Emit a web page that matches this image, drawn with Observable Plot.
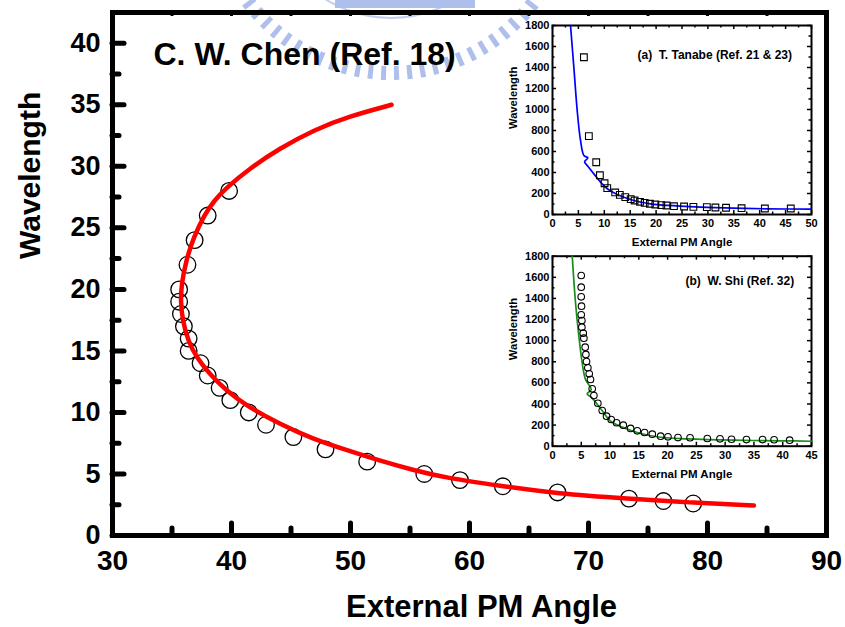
<!DOCTYPE html>
<html><head><meta charset="utf-8">
<script src="https://cdn.jsdelivr.net/npm/d3@7"></script>
<script src="https://cdn.jsdelivr.net/npm/@observablehq/plot@0.6"></script>
<style>
body{margin:0;background:#fff;}
#wrap{position:relative;width:845px;height:627px;overflow:hidden;font-family:Arial,"Liberation Sans",Helvetica,sans-serif;}
#wrap > *{position:absolute;}
</style></head><body><div id="wrap"></div>
<script>
// ---- main chart: C. W. Chen (Ref. 18)
const mainAngle = [39.8,38.0,36.9,36.3,35.6,35.6,35.75,36.0,36.4,36.4,37.4,38.0,39.0,39.9,41.45,42.9,45.2,47.9,51.4,56.2,59.2,62.8,67.4,73.4,76.3,78.8];
const mainWave  = [28,26,24,22,20,19,18,17,16,15,14,13,12,11,10,9,8,7,6,5,4.5,4,3.5,3,2.8,2.6];
const fitAngle = [53.45,49.87,46.95,43.95,41.58,39.49,38.54,37.75,36.8,36.17,35.8,35.72,35.89,36.36,37.06,38.18,39.58,41.26,44.05,46.85,49.65,52.44,55.23,58.03,62.5,67.4,73.4,78.5,83.9];
const fitWave  = [35.0,34.06,32.98,31.4,29.87,28.2,27.2,26.1,24.2,22.3,20.4,19.06,17.44,15.8,14.46,13.1,11.76,10.54,9.06,7.84,6.95,6.08,5.33,4.68,4.05,3.4,3.0,2.68,2.43];
const mainXTicks = [30,40,50,60,70,80,90];
const mainXMinor = [35,45,55,65,75,85];
const mainYTicks = [0,5,10,15,20,25,30,35,40];
const mainYMinor = [2.5,7.5,12.5,17.5,22.5,27.5,32.5,37.5];

// ---- inset (a): T. Tanabe
const tanAngle = [6.06,7.02,8.44,9.15,10.05,10.57,12.1,13.0,14.05,15.1,15.85,16.9,17.8,18.8,19.85,21.0,22.0,23.45,25.4,27.2,29.8,31.45,33.5,36.5,41.0,46.0];
const tanWave  = [1498,746,498,374,298,251,210,187,165,146,133,121,111,102,95,89,86,79,76,73,70,67,64,60,57,57];
const tanFitAngle = [3.48,4.12,4.77,5.41,6.06,6.83,6.19,6.83,7.99,9.28,10.57,12.5,15.7,18.9,22.2,28.6,35.05,41.5,49.9];
const tanFitWave  = [1800,1403,990,705,562,540,502,460,387,308,245,190,133,102,86,70,60,54,51];

// ---- inset (b): W. Shi
const shiAngle = [4.99,4.99,4.99,5.04,4.99,5.1,5.1,5.34,5.45,5.68,5.8,5.91,6.14,6.38,6.6,6.9,7.19,7.88,8.64,9.39,10.2,11.13,12.3,13.57,14.73,16.0,17.34,18.79,20.06,21.8,23.9,26.9,29.1,31.1,33.7,36.5,38.5,41.2];
const shiWave  = [1617,1507,1415,1327,1245,1191,1128,1071,1023,938,869,802,743,686,632,544,480,407,338,284,253,222,199,168,146,130,114,95,89,82,80,73,70,66,63,63,61,57];
const shiFitAngle = [3.43,4.0,4.58,5.16,5.74,6.73,6.03,6.73,8.35,10.09,12.4,15.3,18.8,23.4,31.5,40.2,45];
const shiFitWave  = [1800,1359,1042,790,632,537,496,464,357,237,174,120,85,70,57,51,47];

const insetYTicks = [0,200,400,600,800,1000,1200,1400,1600,1800];
const insetYMinor = [100,300,500,700,900,1100,1300,1500,1700];
const tanXTicks = [0,5,10,15,20,25,30,35,40,45,50];
const tanXMinor = [2.5,7.5,12.5,17.5,22.5,27.5,32.5,37.5,42.5,47.5];
const shiXTicks = [0,5,10,15,20,25,30,35,40,45];
const shiXMinor = [2.5,7.5,12.5,17.5,22.5,27.5,32.5,37.5,42.5];

const FONT = 'Arial, "Liberation Sans", Helvetica, sans-serif';
const zip = (xs, ys) => xs.map((x, i) => ({x, y: ys[i]}));
const plain = d => String(d);
const wrap = document.getElementById("wrap");

// faint watermark logo behind the chart (decoration only)
const wm = d3.create("svg").attr("width", 845).attr("height", 627).style("left", "0px").style("top", "0px");
wm.append("circle").attr("cx", 391).attr("cy", -106).attr("r", 179).attr("fill", "none")
  .attr("stroke", "#aebfec").attr("stroke-width", 14).attr("stroke-dasharray", "5 8");
wm.append("circle").attr("cx", 391).attr("cy", -106).attr("r", 124).attr("fill", "none")
  .attr("stroke", "#c3cff2").attr("stroke-width", 2);
wm.append("rect").attr("x", 335).attr("y", 0).attr("width", 140).attr("height", 8).attr("fill", "#aebfec");
wrap.append(wm.node());

// main plot
const W = 845, H = 627, mL = 112, mR = 19, mT = 12, mB = 92;
const pW = W - mL - mR, pH = H - mT - mB;
const main = Plot.plot({
  width: W, height: H, marginLeft: mL, marginRight: mR, marginTop: mT, marginBottom: mB,
  style: {background: "transparent", fontFamily: FONT, overflow: "visible", color: "black"},
  x: {domain: [30, 90]},
  y: {domain: [0, 42.5]},
  marks: [
    Plot.axisX(mainXTicks, {tickSize: 0, tickPadding: 15, fontSize: 28, fontWeight: "bold", label: null, tickFormat: plain}),
    Plot.axisY(mainYTicks, {tickSize: 0, tickPadding: 12, fontSize: 27, fontWeight: "bold", label: null, tickFormat: plain}),
    Plot.tickX(mainXTicks, {x: d => d, insetTop: pH - 12, strokeWidth: 5, strokeLinecap: "round"}),
    Plot.tickX(mainXMinor, {x: d => d, insetTop: pH - 7, strokeWidth: 5, strokeLinecap: "round"}),
    Plot.tickX(mainXTicks.concat(mainXMinor), {x: d => d, insetBottom: pH - 4, strokeWidth: 3}),
    Plot.tickY(mainYTicks, {y: d => d, insetRight: pW - 12, strokeWidth: 5, strokeLinecap: "round"}),
    Plot.tickY(mainYMinor, {y: d => d, insetRight: pW - 7, strokeWidth: 5, strokeLinecap: "round"}),
    Plot.frame({stroke: "black", strokeWidth: 5}),
    Plot.dot(zip(mainAngle, mainWave), {x: "x", y: "y", r: 8.3, stroke: "black", strokeWidth: 1.3, fill: "none"}),
    Plot.line(zip(fitAngle, fitWave), {x: "x", y: "y", stroke: "#ff0000", strokeWidth: 4.5, curve: "basis"}),
    Plot.text(["C. W. Chen (Ref. 18)"], {text: d => d, frameAnchor: "top-left", dx: 41, dy: 42, textAnchor: "start", lineAnchor: "middle", fontSize: 32, fontWeight: "bold"}),
    Plot.text(["External PM Angle"], {text: d => d, frameAnchor: "bottom", dx: 12, dy: 72, lineAnchor: "middle", fontSize: 31, fontWeight: "bold"}),
    Plot.text(["Wavelength"], {text: d => d, frameAnchor: "left", dx: -82, dy: -15, rotate: -90, lineAnchor: "middle", fontSize: 30, fontWeight: "bold"})
  ]
});
main.style.left = "0px"; main.style.top = "0px";
wrap.append(main);

// insets
function inset({top, height, marginTop, marginBottom, xDomain, xTicks, xMinor, pts, fit, color, symbol, r, title, titleDx, titleDy}) {
  const w = 340, mLi = 62, mRi = 19;
  const ph = height - marginTop - marginBottom, pw = w - mLi - mRi;
  const p = Plot.plot({
    width: w, height, marginLeft: mLi, marginRight: mRi, marginTop, marginBottom,
    style: {background: "transparent", fontFamily: FONT, overflow: "visible", color: "black"},
    x: {domain: xDomain},
    y: {domain: [0, 1800]},
    marks: [
      Plot.axisX(xTicks, {tickSize: 0, tickPadding: 5, fontSize: 11, fontWeight: "bold", label: null, tickFormat: plain}),
      Plot.axisY(insetYTicks, {tickSize: 0, tickPadding: 3, fontSize: 11, fontWeight: "bold", label: null, tickFormat: plain}),
      Plot.tickX(xTicks, {x: d => d, insetTop: ph - 4, strokeWidth: 1.5}),
      Plot.tickX(xMinor, {x: d => d, insetTop: ph - 2.5, strokeWidth: 1.5}),
      Plot.tickX(xTicks, {x: d => d, insetBottom: ph - 4, strokeWidth: 1.5}),
      Plot.tickX(xMinor, {x: d => d, insetBottom: ph - 2.5, strokeWidth: 1.5}),
      Plot.tickY(insetYTicks, {y: d => d, insetRight: pw - 4, strokeWidth: 1.5}),
      Plot.tickY(insetYMinor, {y: d => d, insetRight: pw - 2.5, strokeWidth: 1.5}),
      Plot.tickY(insetYTicks, {y: d => d, insetLeft: pw - 4, strokeWidth: 1.5}),
      Plot.tickY(insetYMinor, {y: d => d, insetLeft: pw - 2.5, strokeWidth: 1.5}),
      Plot.frame({stroke: "black", strokeWidth: 2}),
      Plot.line(fit, {x: "x", y: "y", stroke: color, strokeWidth: 1.7, curve: "catmull-rom"}),
      Plot.dot(pts, {x: "x", y: "y", symbol, r, stroke: "black", strokeWidth: 1.1, fill: "none"}),
      Plot.text([title], {text: d => d, frameAnchor: "top-left", dx: titleDx, dy: titleDy, textAnchor: "start", lineAnchor: "middle", fontSize: 12, fontWeight: "bold"}),
      Plot.text(["External PM Angle"], {text: d => d, frameAnchor: "bottom", dy: 27.7, lineAnchor: "middle", fontSize: 11.5, fontWeight: "bold"}),
      Plot.text(["Wavelength"], {text: d => d, frameAnchor: "left", dx: -39, dy: 9, rotate: -90, lineAnchor: "middle", fontSize: 11.2, fontWeight: "bold"})
    ]
  });
  p.style.left = "490px"; p.style.top = top + "px";
  wrap.append(p);
}
inset({top: 10, height: 245, marginTop: 15, marginBottom: 41, xDomain: [0, 50], xTicks: tanXTicks, xMinor: tanXMinor,
  pts: zip(tanAngle, tanWave), fit: zip(tanFitAngle, tanFitWave), color: "#0000ff", symbol: "square", r: 3.8,
  title: "(a)\u00a0 T. Tanabe (Ref. 21 & 23)", titleDx: 85, titleDy: 30});
inset({top: 245, height: 245, marginTop: 10.7, marginBottom: 44.3, xDomain: [0, 45], xTicks: shiXTicks, xMinor: shiXMinor,
  pts: zip(shiAngle, shiWave), fit: zip(shiFitAngle, shiFitWave), color: "#1a8c1a", symbol: "circle", r: 3.3,
  title: "(b)\u00a0 W. Shi (Ref. 32)", titleDx: 133, titleDy: 25});
</script></body></html>
